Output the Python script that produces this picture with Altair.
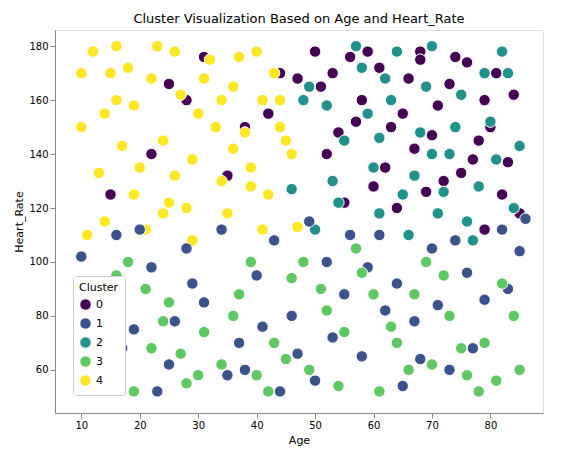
import altair as alt
import pandas as pd

# Values (a sample of the dense cloud)
age_c0 = [50, 53, 56, 58, 61, 63, 66, 68, 71, 73, 76, 78, 81, 84, 52, 57, 62, 67, 72, 77, 82, 55, 60, 65, 70, 75, 80, 85,
          51, 59, 64, 69, 74, 79, 83, 12, 18, 25, 31, 38, 44, 15, 22, 35, 42, 28, 47, 54, 68, 79]
hr_c0 = [178, 170, 176, 160, 172, 150, 168, 178, 158, 166, 174, 145, 170, 162, 140, 152, 135, 142, 130, 138, 125, 122,
         128, 155, 147, 133, 150, 118, 165, 178, 120, 126, 176, 160, 137, 178, 172, 166, 176, 150, 170, 125, 140, 132,
         155, 160, 168, 148, 175, 112]
age_c2 = [49, 52, 55, 58, 60, 63, 65, 68, 70, 73, 75, 78, 80, 83, 85, 50, 54, 57, 61, 64, 67, 71, 74, 77, 81, 84, 53, 59,
          62, 66, 69, 72, 76, 79, 82, 56, 46, 48, 70, 61]
hr_c2 = [165, 158, 145, 172, 135, 160, 125, 148, 180, 140, 162, 128, 152, 170, 143, 112, 122, 180, 118, 178, 132, 118,
         150, 108, 138, 120, 130, 155, 168, 110, 165, 126, 115, 170, 178, 110, 127, 160, 140, 146]
age_c4 = [10, 12, 14, 16, 18, 20, 22, 24, 26, 28, 30, 32, 34, 36, 38, 40, 42, 44, 46, 11, 13, 15, 17, 19, 21, 23, 25,
          27, 29, 31, 33, 35, 37, 39, 41, 43, 45, 47, 10, 14, 19, 24, 29, 34, 39, 44, 16, 26, 36, 41]
hr_c4 = [150, 178, 115, 160, 172, 135, 168, 145, 178, 120, 155, 175, 130, 165, 148, 178, 125, 160, 140, 110, 133, 170,
         143, 158, 112, 180, 122, 162, 138, 168, 150, 118, 176, 128, 160, 170, 145, 113, 170, 155, 125, 118, 108, 160,
         135, 150, 180, 132, 142, 112]
age_c1 = [10, 13, 16, 19, 22, 25, 28, 31, 34, 37, 40, 43, 46, 49, 52, 55, 58, 61, 64, 67, 70, 73, 76, 79, 82, 85, 11,
          17, 23, 29, 35, 41, 47, 53, 59, 65, 71, 77, 83, 14, 26, 38, 50, 62, 74, 86, 20, 44, 68, 56]
hr_c1 = [102, 90, 110, 75, 98, 62, 105, 85, 112, 70, 95, 108, 80, 115, 100, 88, 65, 110, 92, 78, 105, 60, 96, 86, 112,
         104, 55, 68, 52, 92, 58, 76, 66, 72, 98, 54, 84, 68, 90, 82, 78, 60, 56, 82, 108, 116, 112, 52, 64, 110]
age_c3 = [10, 13, 16, 19, 22, 25, 28, 31, 34, 37, 40, 43, 46, 49, 52, 55, 58, 61, 64, 67, 70, 73, 76, 79, 82, 85, 12,
          18, 24, 30, 36, 42, 48, 54, 60, 66, 72, 78, 84, 15, 27, 39, 51, 63, 75, 21, 45, 57, 69, 81]
hr_c3 = [80, 60, 95, 52, 68, 85, 55, 74, 62, 88, 58, 70, 94, 60, 82, 74, 96, 52, 70, 88, 62, 80, 58, 70, 92, 60, 65,
         100, 78, 58, 80, 52, 100, 54, 88, 60, 95, 52, 80, 72, 66, 100, 90, 76, 68, 90, 64, 105, 100, 56]

rows = []
for c, ages, hrs in [(0, age_c0, hr_c0), (2, age_c2, hr_c2), (4, age_c4, hr_c4), (1, age_c1, hr_c1), (3, age_c3, hr_c3)]:
    for a, h in zip(ages, hrs):
        rows.append({"Age": a, "Heart_Rate": h, "Cluster": c})
df = pd.DataFrame(rows)
df["order"] = range(len(df))

chart = alt.Chart(df).mark_circle(size=130, opacity=1, stroke="white", strokeWidth=1).encode(
    x=alt.X("Age:Q", scale=alt.Scale(domain=[5.5, 89], nice=False, zero=False),
            axis=alt.Axis(values=[10, 20, 30, 40, 50, 60, 70, 80], grid=False, titleFontWeight="normal")),
    y=alt.Y("Heart_Rate:Q", scale=alt.Scale(domain=[44, 186], nice=False, zero=False),
            axis=alt.Axis(values=[60, 80, 100, 120, 140, 160, 180], grid=False, titleFontWeight="normal")),
    color=alt.Color("Cluster:O",
                    scale=alt.Scale(domain=[0, 1, 2, 3, 4],
                                    range=["#440154", "#3b528b", "#21918c", "#5ec962", "#fde725"]),
                    legend=alt.Legend(orient="bottom-left", fillColor="white", strokeColor="#cccccc",
                                      padding=6, cornerRadius=3, titleFontWeight="normal",
                                      symbolSize=130, symbolStrokeColor="white", symbolStrokeWidth=1,
                                      labelFontSize=11, titleFontSize=11)),
    order="order:Q",
).properties(
    width=488, height=383,
    title=alt.Title("Cluster Visualization Based on Age and Heart_Rate", fontWeight="normal", fontSize=13),
).configure_view(stroke="black").configure_axis(
    domain=False, tickColor="black", labelColor="black", titleColor="black", labelFontSize=10, titleFontSize=11
).configure(font="DejaVu Sans")

chart.save("out.html", embed_options={"renderer": "svg", "actions": False})
